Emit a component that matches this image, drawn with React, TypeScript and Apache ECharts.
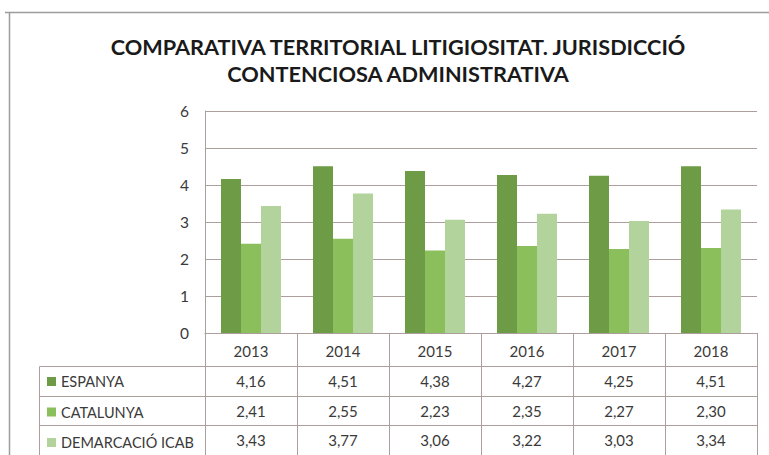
import React, { useEffect, useRef } from "react";
import * as echarts from "echarts";

const years = ["2013", "2014", "2015", "2016", "2017", "2018"];
const espanya = [4.16, 4.51, 4.38, 4.27, 4.25, 4.51];
const catalunya = [2.41, 2.55, 2.23, 2.35, 2.27, 2.3];
const demarcacio = [3.43, 3.77, 3.06, 3.22, 3.03, 3.34];
const seriesNames = ["ESPANYA", "CATALUNYA", "DEMARCACIÓ ICAB"];
const seriesColors = ["#6e9b45", "#8bbf5b", "#b3d39c"];
const titleLines = ["COMPARATIVA TERRITORIAL LITIGIOSITAT. JURISDICCIÓ", "CONTENCIOSA ADMINISTRATIVA"];

const FONT = "Lato, 'Open Sans', sans-serif";
const LINE = "#ab9e9c";
const TEXT = "#3a3a3a";

const fmt = (v: number) => v.toFixed(2).replace(".", ",");

export default function App() {
  const ref = useRef<HTMLDivElement>(null);
  useEffect(() => {
    if (!ref.current) return;
    const chart = echarts.init(ref.current, undefined, { renderer: "svg" });
    const W = 769;
    const H = 455;
    const gridLeft = 205;
    const gridRight = 757;
    const gridTop = 111;
    const gridBottomY = 333;
    const rowOffsets = [33, 63, 92];
    const rows = [espanya, catalunya, demarcacio];

    const dataAxes = rows.map((arr, i) => ({
      type: "category",
      data: years,
      position: "bottom",
      offset: rowOffsets[i],
      gridIndex: 0,
      axisLine: { show: true, lineStyle: { color: LINE, width: 1 } },
      axisTick: { show: false },
      axisLabel: {
        interval: 0,
        margin: 7,
        fontSize: 15,
        fontFamily: FONT,
        color: TEXT,
        formatter: (_v: string, idx: number) => fmt(arr[idx]),
      },
    }));

    chart.setOption({
      animation: false,
      backgroundColor: "#ffffff",
      title: {
        text: titleLines.join("\n"),
        left: 393,
        top: 28,
        textAlign: "center",
        textStyle: {
          fontFamily: FONT,
          fontWeight: "bold",
          fontSize: 21.7,
          lineHeight: 27,
          color: "#1a1a1a",
        },
      },
      legend: {
        orient: "vertical",
        left: 47,
        top: 374,
        height: 80,
        padding: 0,
        itemWidth: 9,
        itemHeight: 9,
        itemGap: 15.5,
        icon: "rect",
        data: seriesNames,
        textStyle: { fontFamily: FONT, fontSize: 14.5, color: TEXT },
      },
      grid: {
        left: gridLeft,
        right: W - gridRight,
        top: gridTop,
        bottom: H - gridBottomY,
        containLabel: false,
      },
      xAxis: [
        {
          type: "category",
          data: years,
          position: "bottom",
          axisLine: { show: true, lineStyle: { color: LINE, width: 1 } },
          axisTick: {
            show: true,
            alignWithLabel: false,
            interval: 0,
            inside: false,
            length: H - gridBottomY,
            lineStyle: { color: LINE, width: 1 },
          },
          axisLabel: { interval: 0, margin: 10, fontSize: 15, fontFamily: FONT, color: TEXT },
        },
        ...dataAxes,
      ],
      yAxis: {
        type: "value",
        min: 0,
        max: 6,
        interval: 1,
        axisLine: { show: true, lineStyle: { color: LINE } },
        axisTick: { show: false },
        splitLine: { lineStyle: { color: LINE, width: 1 } },
        axisLabel: { margin: 16, fontSize: 15.5, fontFamily: FONT, color: TEXT },
      },
      series: [espanya, catalunya, demarcacio].map((d, i) => ({
        type: "bar",
        name: seriesNames[i],
        data: d,
        xAxisIndex: 0,
        barWidth: 20,
        barGap: "0%",
        itemStyle: { color: seriesColors[i] },
      })),
      graphic: [
        { type: "line", shape: { x1: 5, y1: 12.5, x2: 769, y2: 12.5 }, style: { stroke: "#9d9d9d", lineWidth: 1.5 } },
        { type: "line", shape: { x1: 9.5, y1: 12, x2: 9.5, y2: 455 }, style: { stroke: "#9d9d9d", lineWidth: 1.5 } },
        { type: "line", shape: { x1: 39.5, y1: 366.5, x2: 205, y2: 366.5 }, style: { stroke: LINE, lineWidth: 1 } },
        { type: "line", shape: { x1: 39.5, y1: 396.5, x2: 205, y2: 396.5 }, style: { stroke: LINE, lineWidth: 1 } },
        { type: "line", shape: { x1: 39.5, y1: 425.5, x2: 205, y2: 425.5 }, style: { stroke: LINE, lineWidth: 1 } },
        { type: "line", shape: { x1: 39.5, y1: 366.5, x2: 39.5, y2: 455 }, style: { stroke: LINE, lineWidth: 1 } },
      ],
    });
    return () => chart.dispose();
  }, []);
  return (
    <div
      ref={ref}
      style={{ position: "fixed", left: 0, top: 0, width: 769, height: 455 }}
    />
  );
}
